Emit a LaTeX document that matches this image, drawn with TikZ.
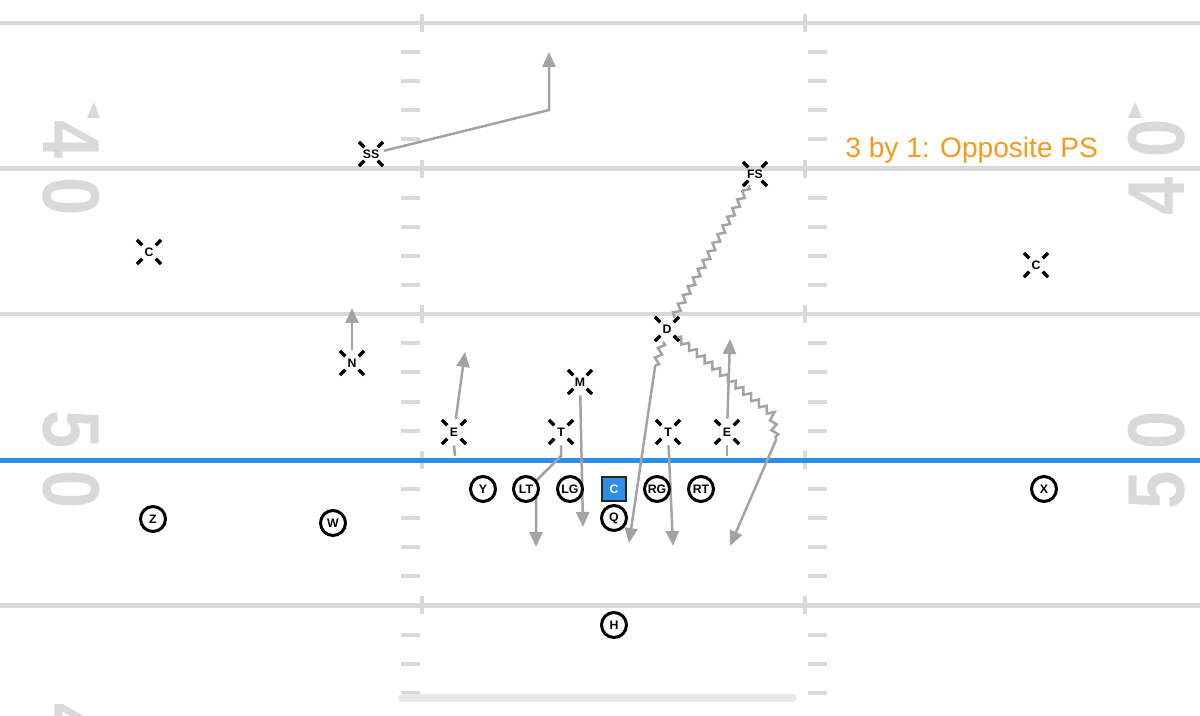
\documentclass[tikz,border=0pt]{standalone}
\usepackage{fontspec}
\setmainfont{Liberation Sans}
\usetikzlibrary{arrows.meta,decorations.pathmorphing}

\definecolor{fieldgrey}{HTML}{D9D9D9}
\definecolor{bargrey}{HTML}{E8E8E8}
\definecolor{routegrey}{HTML}{A3A3A3}
\definecolor{losblue}{HTML}{2E8DE6}
\definecolor{titleorange}{HTML}{F29B1E}

\tikzset{
  player/.style = {circle, draw, line width=0.06cm, fill=white, minimum size=0.5cm, inner sep=0pt, font=\fontsize{7}{7}\selectfont\bfseries},
  snapper/.style = {rectangle, draw=black!85, line width=0.03cm, fill=losblue, text=white, minimum size=0.48cm, inner sep=0pt, font=\fontsize{7}{7}\selectfont\bfseries},
  defender/.style = {circle, minimum size=0.52cm, inner sep=0pt, font=\fontsize{7}{7}\selectfont\bfseries},
  route/.style = {draw=routegrey, line width=0.05cm},
  runto/.style = {route, -{Triangle[length=0.3cm,width=0.26cm]}},
  blitz/.style = {route, decorate, decoration={zigzag, segment length=0.2cm, amplitude=0.06cm}},
  yardline/.style = {fieldgrey, line width=0.09cm},
  hashtick/.style = {fieldgrey, line width=0.08cm},
  bignum/.style = {text=fieldgrey, font=\fontsize{46}{46}\selectfont\bfseries, inner sep=0pt},
}

\begin{document}
\begin{tikzpicture}[x=0.02cm, y=-0.02cm]
	\useasboundingbox (0,0) rectangle (1200,716);
	\clip (0,0) rectangle (1200,716);
	
	% field
	\foreach \y in {23,168.5,314,605.5}
		\draw[yardline] (0,\y) -- (1200,\y);
	\foreach \k in {0,...,23} {
		\pgfmathsetmacro\ty{23+29.12*\k}
		\pgfmathtruncatemacro\m{mod(\k,5)}
		\ifnum\m=0
			\draw[hashtick] (422,\ty-9) -- (422,\ty+9);
			\draw[hashtick] (805,\ty-9) -- (805,\ty+9);
		\else
			\draw[hashtick] (401,\ty) -- (420,\ty);
			\draw[hashtick] (808,\ty) -- (827,\ty);
		\fi
	}
	\draw[losblue, line width=0.1cm] (0,460) -- (1200,460);
	
	\foreach \x/\y/\r/\t [count=\i] in {71/140/-90/4, 71/197/-90/0, 71/430/-90/5, 71/490/-90/0, 71/723/-90/4,
			1157/138/90/0, 1157/196/90/4, 1157/430/90/0, 1157/490/90/5}
		\node[bignum, rotate=\r] (num\i) at (\x,\y) {\scalebox{0.85}[1]{\t}};
	\fill[fieldgrey] (94,102) -- (87,118) -- (100,118) -- cycle;
	\fill[fieldgrey] (1135,102) -- (1128,118) -- (1142,118) -- cycle;
	
	\draw[bargrey, line width=0.16cm, line cap=round] (402,698) -- (793,698);
	
	\node[anchor=base west, text=titleorange, font=\fontsize{16}{16}\selectfont, inner sep=0pt] (title) at (845,158) {3 by 1: Opposite PS};
	
	% defense
	\node[defender] (ss) at (371,154) {SS};
	\node[defender] (fs) at (755,174) {FS};
	\node[defender] (cl) at (149,252) {C};
	\node[defender] (cr) at (1036,265) {C};
	\node[defender] (d) at (667,329) {D};
	\node[defender] (n) at (352,363) {N};
	\node[defender] (m) at (580,382) {M};
	\node[defender] (e1) at (454,432) {E};
	\node[defender] (t1) at (561,432) {T};
	\node[defender] (t2) at (668,432) {T};
	\node[defender] (e2) at (727,432) {E};
	\foreach \p in {ss,fs,cl,cr,d,n,m,e1,t1,t2,e2}
		\foreach \a in {45,135,225,315}
			\draw[line width=0.065cm] (\p.center) ++(\a:9.5) -- ++(\a:7.5);
	
	% routes
	\coordinate (ss1) at (549,110);
	\coordinate (sstip) at (549,52);
	\coordinate (ntip) at (352,308);
	\coordinate (e1los) at (455,456);
	\coordinate (e1tip) at (465,352);
	\coordinate (e2los) at (727,456);
	\coordinate (e2tip) at (730,339);
	\coordinate (t1a) at (561,456);
	\coordinate (t1b) at (536,481);
	\coordinate (t1tip) at (536,547);
	\coordinate (mtip) at (583,527);
	\coordinate (t2tip) at (673,546);
	\coordinate (dl1) at (655,367);
	\coordinate (dltip) at (629,543);
	\coordinate (dr1) at (772,414);
	\coordinate (dr2) at (776,440);
	\coordinate (drtip) at (730,546);
	
	\draw[runto] (ss) -- (ss1) -- (sstip);
	\draw[runto] (n) -- (ntip);
	\draw[route] (e1los) -- (e1.south);
	\draw[runto] (e1) -- (e1tip);
	\draw[route] (e2los) -- (e2.south);
	\draw[runto] (e2) -- (e2tip);
	\draw[runto] (t1) -- (t1a) -- (t1b) -- (t1tip);
	\draw[runto] (m) -- (mtip);
	\draw[runto] (t2) -- (t2tip);
	\draw[blitz] (fs) -- (d);
	\draw[blitz] (d) -- (dl1);
	\draw[runto] (dl1) -- (dltip);
	\draw[blitz] (d) -- (dr1) -- (dr2);
	\draw[runto] (dr2) -- (drtip);
	
	% offense
	\node[player] (y) at (483,489) {Y};
	\node[player] (lt) at (526,489) {LT};
	\node[player] (lg) at (570,489) {LG};
	\node[snapper] (c) at (614,489) {C};
	\node[player] (rg) at (657,489) {RG};
	\node[player] (rt) at (701,489) {RT};
	\node[player] (q) at (614,518) {Q};
	\node[player] (h) at (614,625) {H};
	\node[player] (z) at (153,519) {Z};
	\node[player] (w) at (333,523) {W};
	\node[player] (x) at (1044,489) {X};
\end{tikzpicture}
\end{document}
